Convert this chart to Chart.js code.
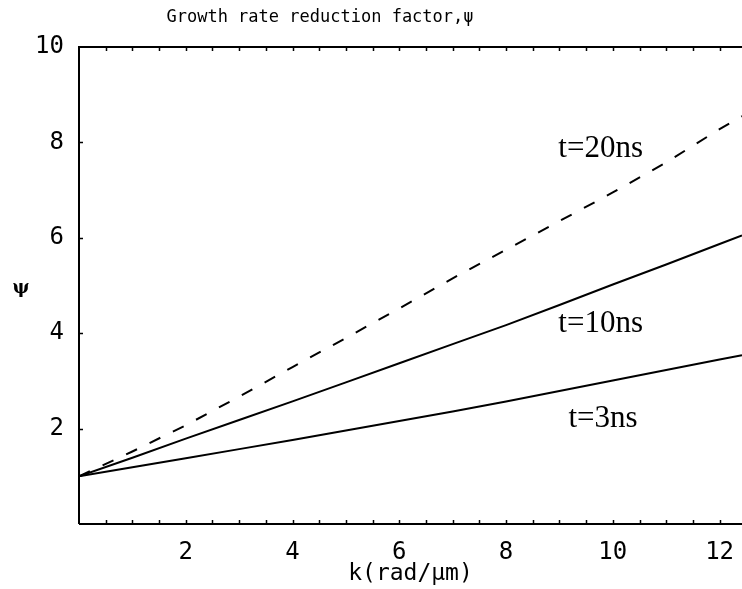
<!DOCTYPE html>
<html>
<head>
<meta charset="utf-8">
<title>Growth rate reduction factor</title>
<script src="https://cdn.jsdelivr.net/npm/chart.js@4/dist/chart.umd.min.js"></script>
<style>
  html, body { margin: 0; padding: 0; background: #fff; }
  #wrap { width: 742px; height: 589px; }
</style>
</head>
<body>
<div id="wrap"><canvas id="myChart" width="742" height="589"></canvas></div>
<script>
'use strict';

// ******* DATA *******

let kValues = [0, 1, 2, 3, 4, 5, 6, 7, 8, 9, 10, 11, 12, 12.42];
let psi3ns = [1.0, 1.19, 1.38, 1.57, 1.76, 1.96, 2.16, 2.36, 2.57, 2.79, 3.01, 3.23, 3.45, 3.54];
let psi10ns = [1.0, 1.39, 1.79, 2.18, 2.57, 2.97, 3.37, 3.77, 4.17, 4.59, 5.02, 5.44, 5.87, 6.05];
let psi20ns = [1.0, 1.52, 2.07, 2.67, 3.29, 3.9, 4.52, 5.15, 5.75, 6.35, 6.95, 7.58, 8.28, 8.55];

let xTickLabels = [2, 4, 6, 8, 10, 12];
let yTickLabels = [2, 4, 6, 8, 10];
let xMinorTicks = [0.5, 1, 1.5, 2, 2.5, 3, 3.5, 4, 4.5, 5, 5.5, 6, 6.5, 7, 7.5, 8, 8.5, 9, 9.5, 10, 10.5, 11, 11.5, 12];
let yMinorTicks = [2, 4, 6, 8];

// curve labels: text, k, psi (baseline-left)
let curveLabels = [
  ['t=20ns', 8.98, 7.69],
  ['t=10ns', 8.98, 4.02],
  ['t=3ns', 9.17, 2.03]
];

let plotTitle = 'Growth rate reduction factor,ψ';

const MONO = '"DejaVu Sans Mono", monospace';


// ****** HELPERS ******

function toPoints(ys) {
  let pts = [];
  for (let i = 0; i < kValues.length; i++) {
    pts.push({ x: kValues[i], y: ys[i] });
  }
  return pts;
}

function makeSeries(label, ys, dash) {
  return {
    label: label,
    data: toPoints(ys),
    borderColor: '#000',
    borderWidth: 2,
    borderDash: dash,
    pointRadius: 0,
    tension: 0,
    fill: false
  };
}

// frame, inward tick marks, title, psi axis symbol and curve labels
const framePlugin = {
  id: 'frame',
  afterDraw(chart) {
    let ctx = chart.ctx;
    let area = chart.chartArea;
    let xs = chart.scales.x;
    let ys = chart.scales.y;

    ctx.save();
    ctx.strokeStyle = '#000';
    ctx.lineWidth = 2;
    ctx.beginPath();
    ctx.moveTo(area.left, area.bottom);
    ctx.lineTo(area.left, area.top);
    ctx.lineTo(area.right, area.top);
    ctx.moveTo(area.left, area.bottom);
    ctx.lineTo(area.right, area.bottom);
    ctx.stroke();

    ctx.lineWidth = 1.5;
    ctx.beginPath();
    for (let i = 0; i < xMinorTicks.length; i++) {
      let px = Math.round(xs.getPixelForValue(xMinorTicks[i])) + 0.5;
      ctx.moveTo(px, area.bottom);
      ctx.lineTo(px, area.bottom - 4);
      ctx.moveTo(px, area.top);
      ctx.lineTo(px, area.top + 4);
    }
    for (let i = 0; i < yMinorTicks.length; i++) {
      let py = Math.round(ys.getPixelForValue(yMinorTicks[i])) + 0.5;
      ctx.moveTo(area.left, py);
      ctx.lineTo(area.left + 4, py);
    }
    ctx.stroke();

    ctx.fillStyle = '#000';
    ctx.font = '17px ' + MONO;
    ctx.textAlign = 'center';
    ctx.textBaseline = 'middle';
    ctx.fillText(plotTitle, 320, 18);

    ctx.font = 'bold 18px "DejaVu Serif", serif';
    ctx.fillText('ψ', 21, (area.top + area.bottom) / 2 + 3);

    ctx.font = '31px "Liberation Serif", serif';
    ctx.textAlign = 'left';
    ctx.textBaseline = 'alphabetic';
    for (let i = 0; i < curveLabels.length; i++) {
      let lbl = curveLabels[i];
      ctx.fillText(lbl[0], xs.getPixelForValue(lbl[1]), ys.getPixelForValue(lbl[2]));
    }
    ctx.restore();
  }
};


// ****** EXECUTABLE CODE ********

const ctx = document.getElementById('myChart').getContext('2d');
const myChart = new Chart(ctx, {
  type: 'line',
  data: {
    datasets: [
      makeSeries('t=20ns', psi20ns, [12, 14]),
      makeSeries('t=10ns', psi10ns, []),
      makeSeries('t=3ns', psi3ns, [])
    ]
  },
  options: {
    responsive: false,
    animation: false,
    layout: { padding: { left: 0, right: 0, top: 47, bottom: 0 } },
    plugins: {
      legend: { display: false },
      tooltip: { enabled: false },
      title: { display: false }
    },
    scales: {
      x: {
        type: 'linear',
        min: 0,
        max: 12.42,
        grid: { display: false, drawTicks: false },
        border: { display: false },
        afterBuildTicks(scale) {
          scale.ticks = xTickLabels.map(v => ({ value: v }));
        },
        afterFit(scale) {
          scale.height = 65;
          scale.paddingLeft = 0;
          scale.paddingRight = 0;
        },
        ticks: {
          color: '#000',
          padding: 14,
          maxRotation: 0,
          font: { family: MONO, size: 24 }
        },
        title: {
          display: true,
          text: 'k(rad/μm)',
          color: '#000',
          font: { family: MONO, size: 23 },
          padding: { top: 0, bottom: 1 }
        }
      },
      y: {
        type: 'linear',
        min: 0,
        max: 10,
        grid: { display: false, drawTicks: false },
        border: { display: false },
        afterBuildTicks(scale) {
          scale.ticks = yTickLabels.map(v => ({ value: v }));
        },
        afterFit(scale) {
          scale.width = 79;
          scale.paddingTop = 0;
          scale.paddingBottom = 0;
        },
        ticks: {
          color: '#000',
          padding: 15,
          font: { family: MONO, size: 24 }
        }
      }
    }
  },
  plugins: [framePlugin]
});
</script>
</body>
</html>
